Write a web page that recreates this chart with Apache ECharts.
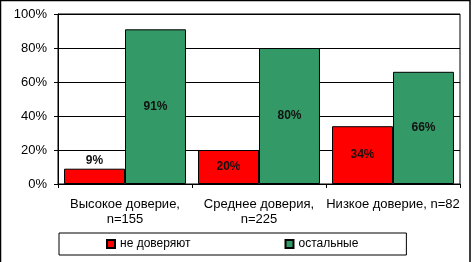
<!DOCTYPE html>
<html><head><meta charset="utf-8">
<script src="https://cdn.jsdelivr.net/npm/echarts@6/dist/echarts.min.js"></script>
<style>html,body{margin:0;padding:0;background:#fff}#c{width:472px;height:262px}</style>
</head><body><div id="c"></div>
<script>
var categories = ['Высокое доверие,\nn=155', 'Среднее доверия,\nn=225', 'Низкое доверие, n=82'];
var seriesNames = ['не доверяют', 'остальные'];
var distrust = [9, 20, 34];
var others = [91, 80, 66];
var yTicks = [0, 20, 40, 60, 80, 100];

var FONT = 'Liberation Sans, Arial, sans-serif';
var chart = echarts.init(document.getElementById('c'), null, {renderer: 'canvas'});
function lbl(pos) {
  return {show: true, position: pos, distance: 2, formatter: '{c}%', fontFamily: FONT, fontWeight: 'bold', fontSize: 12, color: '#111'};
}
chart.setOption({
  animation: false,
  backgroundColor: '#fff',
  graphic: [{type: 'rect', shape: {x: 0.5, y: 0.5, width: 469.5, height: 270}, style: {fill: 'none', stroke: '#000', lineWidth: 1.5}, silent: true}],
  grid: {left: 58, right: 12, top: 14, bottom: 78, show: true, borderColor: '#000', borderWidth: 1, containLabel: false},
  legend: {
    data: seriesNames, left: 59, top: 233, orient: 'horizontal',
    padding: [5, 48, 5, 47], itemGap: 94, itemWidth: 8, itemHeight: 8,
    borderColor: '#000', borderWidth: 1, icon: 'rect',
    textStyle: {fontFamily: FONT, fontSize: 12, color: '#000'}
  },
  xAxis: {
    type: 'category', data: categories,
    axisLine: {lineStyle: {color: '#000', width: 1}},
    axisTick: {show: true, length: 4, lineStyle: {color: '#000'}},
    axisLabel: {fontFamily: FONT, fontSize: 13, color: '#000', margin: 13, lineHeight: 15, interval: 0}
  },
  yAxis: {
    type: 'value', min: 0, max: 100, interval: 20,
    axisLine: {show: true, lineStyle: {color: '#000', width: 1}},
    axisTick: {show: true, length: 4, lineStyle: {color: '#000'}},
    splitLine: {show: true, lineStyle: {color: '#000', width: 1}},
    axisLabel: {fontFamily: FONT, fontSize: 13, color: '#000', margin: 11, formatter: function(v){ return yTicks.indexOf(v) >= 0 ? v + '%' : ''; }}
  },
  series: [
    {name: seriesNames[0], type: 'bar', barGap: '0%', barCategoryGap: '9%',
     itemStyle: {color: '#ff0000', borderColor: '#000', borderWidth: 1},
     data: distrust.map(function(v, i){ return {value: v, label: lbl(i === 0 ? 'top' : 'inside')}; }),
     label: lbl('inside')},
    {name: seriesNames[1], type: 'bar', barGap: '0%', barCategoryGap: '9%',
     itemStyle: {color: '#339966', borderColor: '#000', borderWidth: 1},
     label: lbl('inside'), data: others}
  ]
});
</script></body></html>
